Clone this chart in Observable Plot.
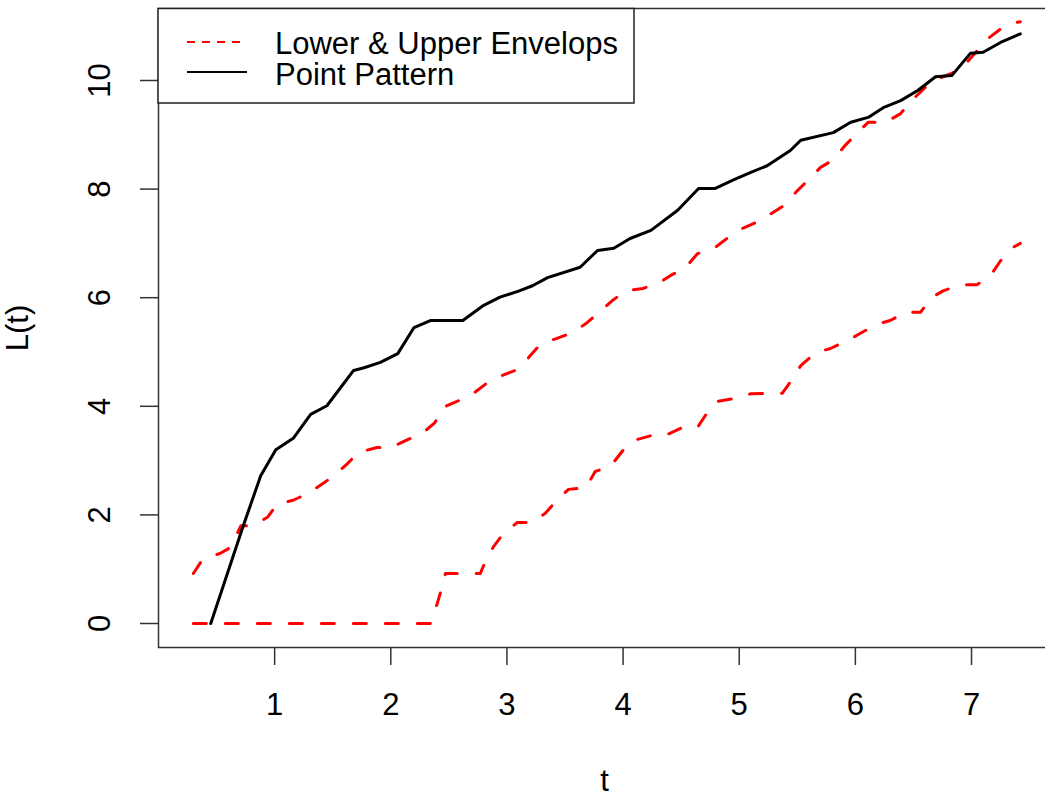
<!DOCTYPE html>
<html><head><meta charset="utf-8">
<script src="https://cdn.jsdelivr.net/npm/d3@7"></script>
<script src="https://cdn.jsdelivr.net/npm/@observablehq/plot@0.6"></script>
<style>
html,body{margin:0;padding:0;background:#fff;}
#wrap{width:1045px;height:798px;overflow:hidden;position:relative;}
#wrap svg{max-width:none !important;display:block;}
</style></head><body><div id="wrap"></div>
<script>
const xTicks = [1, 2, 3, 4, 5, 6, 7];
const yTicks = [0, 2, 4, 6, 8, 10];
const legendLabels = ["Lower & Upper Envelops", "Point Pattern"];

const tPattern = [0.45, 0.73, 0.88, 1.01, 1.16, 1.31, 1.45, 1.68, 1.77, 1.91, 2.06, 2.20, 2.34, 2.62, 2.80, 2.94, 3.10, 3.22, 3.35, 3.63, 3.78, 3.92, 4.06, 4.24, 4.47, 4.65, 4.79, 4.95, 5.10, 5.24, 5.44, 5.53, 5.81, 5.96, 6.11, 6.24, 6.39, 6.54, 6.69, 6.83, 6.99, 7.10, 7.25, 7.42];
const lPattern = [0, 1.80, 2.72, 3.20, 3.41, 3.85, 4.01, 4.66, 4.71, 4.81, 4.97, 5.45, 5.58, 5.58, 5.86, 6.01, 6.12, 6.22, 6.37, 6.56, 6.87, 6.91, 7.09, 7.24, 7.61, 8.01, 8.01, 8.17, 8.31, 8.43, 8.71, 8.90, 9.04, 9.23, 9.32, 9.50, 9.63, 9.82, 10.07, 10.09, 10.50, 10.52, 10.70, 10.86];

const tUpper = [0.30, 0.38, 0.53, 0.62, 0.71, 0.82, 0.94, 1.02, 1.16, 1.28, 1.39, 1.51, 1.63, 1.72, 1.88, 2.00, 2.15, 2.27, 2.38, 2.45, 2.57, 2.70, 2.83, 2.94, 3.07, 3.18, 3.29, 3.43, 3.57, 3.69, 3.79, 3.91, 4.02, 4.17, 4.30, 4.41, 4.54, 4.64, 4.79, 4.90, 5.02, 5.14, 5.27, 5.38, 5.50, 5.59, 5.70, 5.81, 5.91, 6.01, 6.11, 6.26, 6.39, 6.47, 6.59, 6.67, 6.83, 6.95, 7.05, 7.14, 7.27, 7.38, 7.42];
const lUpper = [0.92, 1.18, 1.29, 1.40, 1.80, 1.80, 1.96, 2.20, 2.27, 2.39, 2.54, 2.72, 2.95, 3.15, 3.24, 3.24, 3.39, 3.50, 3.70, 3.98, 4.09, 4.22, 4.43, 4.55, 4.66, 4.88, 5.15, 5.25, 5.36, 5.54, 5.73, 5.95, 6.13, 6.17, 6.26, 6.41, 6.56, 6.81, 6.92, 7.10, 7.27, 7.38, 7.54, 7.69, 7.97, 8.16, 8.40, 8.54, 8.80, 9.02, 9.23, 9.23, 9.39, 9.60, 9.85, 10.00, 10.13, 10.31, 10.55, 10.77, 10.98, 11.07, 11.08];

const tLower = [0.30, 2.34, 2.40, 2.44, 2.47, 2.62, 2.77, 2.81, 2.88, 2.97, 3.09, 3.22, 3.33, 3.43, 3.53, 3.68, 3.76, 3.89, 4.00, 4.09, 4.24, 4.36, 4.51, 4.64, 4.72, 4.81, 4.95, 5.10, 5.37, 5.46, 5.53, 5.66, 5.78, 5.93, 6.04, 6.17, 6.30, 6.43, 6.56, 6.66, 6.76, 6.92, 7.05, 7.18, 7.25, 7.36, 7.42];
const lLower = [0, 0, 0.37, 0.66, 0.92, 0.92, 0.92, 1.12, 1.40, 1.66, 1.86, 1.86, 2.03, 2.27, 2.47, 2.50, 2.80, 2.89, 3.19, 3.37, 3.46, 3.46, 3.61, 3.61, 3.87, 4.09, 4.14, 4.23, 4.24, 4.51, 4.75, 4.99, 5.06, 5.21, 5.34, 5.50, 5.58, 5.73, 5.73, 6.01, 6.13, 6.24, 6.24, 6.46, 6.68, 6.93, 7.00];

const toRows = (ts, ls) => ts.map((t, i) => ({t, L: ls[i]}));
const pattern = toRows(tPattern, lPattern);
const upper = toRows(tUpper, lUpper);
const lower = toRows(tLower, lLower);

const font = "'Liberation Sans', Arial, sans-serif";
const fs = 31;
const envStyle = {x: "t", y: "L", stroke: "#ff0000", strokeWidth: 3, strokeDasharray: "13,19", strokeLinecap: "round", strokeLinejoin: "round"};

const chart = Plot.plot({
  width: 1052, height: 798,
  marginLeft: 158, marginRight: 2, marginTop: 8, marginBottom: 151,
  style: {fontFamily: font, background: "white", color: "black", maxWidth: "none"},
  x: {domain: [0, 7.68], axis: null},
  y: {domain: [-0.442, 11.326], axis: null},
  marks: [
    Plot.frame({stroke: "#333", strokeWidth: 1.5}),
    Plot.axisX(xTicks, {anchor: "bottom", tickSize: 18, tickFormat: () => "", label: null, stroke: "#333", strokeWidth: 1.5}),
    Plot.axisY(yTicks, {anchor: "left", tickSize: 18, tickFormat: () => "", label: null, stroke: "#333", strokeWidth: 1.5}),
    Plot.text(xTicks, {x: d => d, frameAnchor: "bottom", dy: 58, text: d => String(d), fontSize: fs, lineAnchor: "middle", fill: "black"}),
    Plot.text(yTicks, {y: d => d, frameAnchor: "left", dx: -58, rotate: -90, text: d => String(d), fontSize: fs, textAnchor: "middle", lineAnchor: "middle", fill: "black"}),
    Plot.text(["t"], {frameAnchor: "bottom", dy: 134, text: d => d, fontSize: fs, lineAnchor: "middle", fill: "black"}),
    Plot.text(["L(t)"], {frameAnchor: "left", dx: -140, rotate: -90, text: d => d, fontSize: fs, textAnchor: "middle", lineAnchor: "middle", fill: "black"}),
    Plot.line(lower, envStyle),
    Plot.line(upper, envStyle),
    Plot.line(pattern, {x: "t", y: "L", stroke: "black", strokeWidth: 3, strokeLinecap: "round", strokeLinejoin: "round"})
  ]
});
chart.style.maxWidth = "none";
document.getElementById("wrap").appendChild(chart);

// legend (top-left, inside the plot box)
const svg = d3.select(chart);
const lg = svg.append("g").attr("font-family", font).attr("font-size", fs).attr("text-anchor", "start");
lg.append("rect").attr("x", 158).attr("y", 8.5).attr("width", 476).attr("height", 94.5)
  .attr("fill", "white").attr("stroke", "#222").attr("stroke-width", 1.5);
const items = [
  {label: legendLabels[0], stroke: "#ff0000", dash: "8,7", ly: 42, by: 53.5},
  {label: legendLabels[1], stroke: "black", dash: null, ly: 72, by: 85}
];
items.forEach(it => {
  const ln = lg.append("line").attr("x1", 187).attr("x2", 247).attr("y1", it.ly).attr("y2", it.ly)
    .attr("stroke", it.stroke).attr("stroke-width", 2);
  if (it.dash) ln.attr("stroke-dasharray", it.dash);
  lg.append("text").attr("x", 275).attr("y", it.by).attr("fill", "black").attr("text-anchor", "start").text(it.label);
});
</script></body></html>
